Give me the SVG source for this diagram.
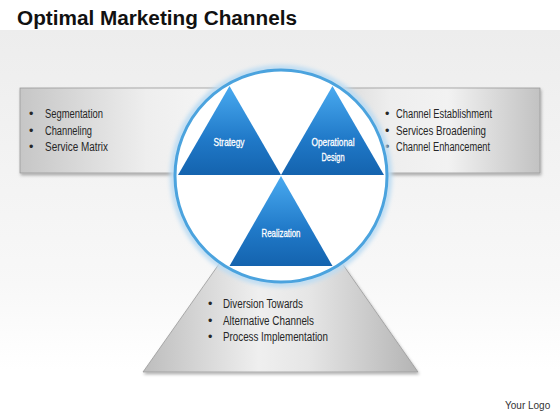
<svg xmlns="http://www.w3.org/2000/svg" width="560" height="420" viewBox="0 0 560 420">
<defs>
<linearGradient id="bg" x1="0" y1="0" x2="0" y2="1">
<stop offset="0" stop-color="#ededed"/>
<stop offset="0.75" stop-color="#f8f8f8"/>
<stop offset="1" stop-color="#ffffff"/>
</linearGradient>
<linearGradient id="boxL" x1="0" y1="0" x2="1" y2="0">
<stop offset="0" stop-color="#c6c6c6"/>
<stop offset="0.55" stop-color="#eeeeee"/>
<stop offset="0.8" stop-color="#f4f4f4"/>
<stop offset="1" stop-color="#d2d2d2"/>
</linearGradient>
<linearGradient id="boxR" x1="0" y1="0" x2="1" y2="0">
<stop offset="0" stop-color="#d0d0d0"/>
<stop offset="0.35" stop-color="#eeeeee"/>
<stop offset="0.6" stop-color="#f2f2f2"/>
<stop offset="1" stop-color="#c2c2c2"/>
</linearGradient>
<linearGradient id="trap" x1="0" y1="0" x2="1" y2="0">
<stop offset="0" stop-color="#bdbdbd"/>
<stop offset="0.42" stop-color="#efefef"/>
<stop offset="0.6" stop-color="#e6e6e6"/>
<stop offset="1" stop-color="#b4b4b4"/>
</linearGradient>
<linearGradient id="blue" x1="0" y1="0" x2="0" y2="1">
<stop offset="0" stop-color="#49aaf0"/>
<stop offset="0.6" stop-color="#2079c8"/>
<stop offset="1" stop-color="#1463ae"/>
</linearGradient>
<filter id="sh" x="-10%" y="-10%" width="120%" height="130%">
<feDropShadow dx="1" dy="2" stdDeviation="1.5" flood-color="#000" flood-opacity="0.3"/>
</filter>
<filter id="glow" x="-10%" y="-10%" width="120%" height="120%">
<feGaussianBlur stdDeviation="2"/>
</filter>
</defs>
<style>
.item{font-family:"Liberation Sans","DejaVu Sans",sans-serif;font-size:12.5px;fill:#262626}
.lbl{font-family:"Liberation Sans","DejaVu Sans",sans-serif;font-size:11px;fill:#ffffff;text-anchor:middle;stroke:#ffffff;stroke-width:0.3}
.box{stroke:#9a9a9a;stroke-width:0.8;filter:url(#sh)}
.tri{fill:url(#blue)}
</style>
<rect x="0" y="0" width="560" height="420" fill="#ffffff"/>
<rect x="0" y="30" width="560" height="340" fill="url(#bg)"/>
<g id="title">
<text x="17" y="25" font-family="'Liberation Sans','DejaVu Sans',sans-serif" font-weight="bold" font-size="20" fill="#111111" textLength="280" lengthAdjust="spacingAndGlyphs">Optimal Marketing Channels</text>
</g>
<g id="node-left-box">
<rect class="box" x="20" y="88" width="230" height="85" fill="url(#boxL)"/>
<text class="item" x="29" y="118">•</text><text class="item" x="45" y="118" textLength="58" lengthAdjust="spacingAndGlyphs">Segmentation</text>
<text class="item" x="29" y="134.5">•</text><text class="item" x="45" y="134.5" textLength="47" lengthAdjust="spacingAndGlyphs">Channeling</text>
<text class="item" x="29" y="151">•</text><text class="item" x="45" y="151" textLength="63" lengthAdjust="spacingAndGlyphs">Service Matrix</text>
</g>
<g id="node-right-box">
<rect class="box" x="310" y="88" width="230" height="85" fill="url(#boxR)"/>
<text class="item" x="385" y="118">•</text><text class="item" x="396" y="118" textLength="96" lengthAdjust="spacingAndGlyphs">Channel Establishment</text>
<text class="item" x="385" y="134.5">•</text><text class="item" x="396" y="134.5" textLength="90" lengthAdjust="spacingAndGlyphs">Services Broadening</text>
<text class="item" x="385" y="151">•</text><text class="item" x="396" y="151" textLength="94" lengthAdjust="spacingAndGlyphs">Channel Enhancement</text>
</g>
<g id="node-bottom">
<polygon class="box" points="281,176 418,372 143,372" fill="url(#trap)"/>
<text class="item" x="208" y="308">•</text><text class="item" x="223" y="308" textLength="80" lengthAdjust="spacingAndGlyphs">Diversion Towards</text>
<text class="item" x="208" y="324.5">•</text><text class="item" x="223" y="324.5" textLength="91" lengthAdjust="spacingAndGlyphs">Alternative  Channels</text>
<text class="item" x="208" y="341">•</text><text class="item" x="223" y="341" textLength="105" lengthAdjust="spacingAndGlyphs">Process Implementation</text>
</g>
<g id="node-circle">
<circle cx="281" cy="176" r="108" fill="none" stroke="#bcdcf3" stroke-width="6" filter="url(#glow)"/>
<circle cx="281" cy="176" r="106" fill="#ffffff" stroke="#4ba3de" stroke-width="3"/>
</g>
<g id="node-strategy">
<polygon class="tri" points="229.5,86 178,175 281,175"/>
<text class="lbl" x="229" y="146" textLength="31" lengthAdjust="spacingAndGlyphs">Strategy</text>
</g>
<g id="node-operational">
<polygon class="tri" points="332.5,86 281,175 384,175"/>
<text class="lbl" x="333" y="146" textLength="43" lengthAdjust="spacingAndGlyphs">Operational</text>
<text class="lbl" x="333" y="161" textLength="23" lengthAdjust="spacingAndGlyphs">Design</text>
</g>
<g id="node-realization">
<polygon class="tri" points="281,176 229.5,266 332.5,266"/>
<text class="lbl" x="281" y="237" textLength="39" lengthAdjust="spacingAndGlyphs">Realization</text>
</g>
<g id="connectors"/>
<g id="logo">
<text x="505" y="409" font-family="'Liberation Sans','DejaVu Sans',sans-serif" font-size="10" fill="#333333">Your Logo</text>
</g>
</svg>
